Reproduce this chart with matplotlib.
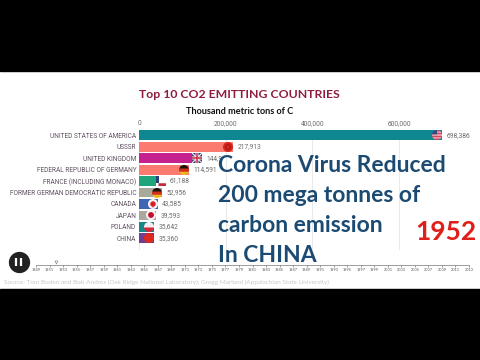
import numpy as np
import matplotlib
matplotlib.use("Agg")
import matplotlib.pyplot as plt
from matplotlib.offsetbox import OffsetImage, AnnotationBbox

countries = ["UNITED STATES OF AMERICA", "USSSR", "UNITED KINGDOM", "FEDERAL REPUBLIC OF GERMANY",
             "FRANCE (INCLUDING MONACO)", "FORMER GERMAN DEMOCRATIC REPUBLIC", "CANADA", "JAPAN",
             "POLAND", "CHINA"]
values = [698386, 217913, 144900, 114591, 61188, 52956, 43585, 39593, 35642, 35360]
value_labels = ["698,386", "217,913", "144,9", "114,591", "61,188", "52,956", "43,585", "39,593", "35,642", "35,360"]
bar_colors = ["#0e8791", "#fb7b70", "#c6228f", "#fb7b70", "#1fa47c", "#a9a99b", "#3f66b2", "#a9a99f", "#17888a", "#6f3c96"]
flags = ["us", "su", "uk", "de", "fr", "de", "ca", "jp", "pl", "cn"]
x_ticks = [0, 200000, 400000, 600000]
years = list(range(1949, 2014, 2))
current_year = 1952
big_lines = ["Corona Virus Reduced", "200 mega tonnes of", "carbon emission", "In CHINA"]


def flag_image(kind, px=10, ss=4):
    n = px * ss
    yy, xx = (np.mgrid[0:n, 0:n] + .5) / n
    img = np.ones((n, n, 4))
    def paint(mask, c):
        img[mask, :3] = matplotlib.colors.to_rgb(c)
    r = np.hypot(xx - .5, yy - .5)
    if kind == "us":
        paint(np.ones_like(xx, bool), "#f2b6c0")
        paint((yy * 7).astype(int) % 2 == 0, "#d0485f")
        paint((xx < .5) & (yy < .45), "#3c4a85")
    elif kind == "su":
        paint(np.ones_like(xx, bool), "#d8261c")
        paint((r < .3) & (r > .17), "#a81a10")
    elif kind == "uk":
        paint(np.ones_like(xx, bool), "#3a3f7c")
        paint((np.abs(xx - yy) < .09) | (np.abs(xx + yy - 1) < .09), "#e8dfe6")
        paint((np.abs(xx - .5) < .15) | (np.abs(yy - .5) < .15), "#f2e8ee")
        paint((np.abs(xx - .5) < .07) | (np.abs(yy - .5) < .07), "#c8283c")
    elif kind == "de":
        paint(yy < .36, "#1c1410")
        paint((yy >= .36) & (yy < .68), "#d0301c")
        paint(yy >= .68, "#f0b820")
    elif kind == "fr":
        paint(np.ones_like(xx, bool), "#ffffff")
        paint((xx < .3) & (yy < .7), "#27407f")
        paint((yy > .72) & (xx > .25), "#c82a3a")
    elif kind == "ca":
        paint(r < 1, "#f8f4f4")
        paint((r < .27) | ((np.abs(xx - .5) < .05) & (yy > .5) & (yy < .85)), "#d8202c")
    elif kind == "jp":
        paint(r < 1, "#f8f4f6")
        paint(r < .29, "#c4102e")
    elif kind == "pl":
        paint(yy < .55, "#f4f0f2")
        paint(yy >= .55, "#d42a3c")
    elif kind == "cn":
        paint(r < 1, "#de2a1c")
    if kind not in ("uk", "fr"):
        img[..., 3] = (r < .5).astype(float)
    # box-average down to the final pixel size, weighting colour by alpha
    a = img[..., 3:]
    pm = (img[..., :3] * a).reshape(px, ss, px, ss, 3).mean(axis=(1, 3))
    am = a.reshape(px, ss, px, ss, 1).mean(axis=(1, 3))
    return np.dstack([pm / np.maximum(am, 1e-6), am])


plt.rcParams["font.family"] = ["Lato", "DejaVu Sans"]
W, H = 480, 360
fig = plt.figure(figsize=(W / 100, H / 100), dpi=100, facecolor="white")


def box(l, t, r, b):
    return [l / W, 1 - b / H, (r - l) / W, (b - t) / H]


# black letterbox bands
fig.patches.append(plt.Rectangle((0, 1 - 71 / H), 1, 71 / H, transform=fig.transFigure, color="black"))
fig.patches.append(plt.Rectangle((0, 0), 1, (H - 289) / H, transform=fig.transFigure, color="black"))

# bars
ax = fig.add_axes(box(139, 129.5, 470, 250), facecolor="none")
y = np.arange(len(countries))
ax.barh(y, values, height=0.86, color=bar_colors, zorder=2)
ax.set_xlim(0, 331 / 86.7 * 200000)
ax.set_ylim((250 - 129.5) / 11.46 - 0.5, -0.5)
ax.set_yticks(y, countries)
ax.set_xticks(x_ticks, [f"{t:,}" for t in x_ticks])
ax.xaxis.tick_top()
ax.tick_params(axis="x", length=0, pad=1.5, labelsize=4.7, labelcolor="#6a6a6a")
ax.tick_params(axis="y", length=0, pad=2, labelsize=4.7, labelcolor="#5e5060")
for lab in ax.get_yticklabels() + ax.get_xticklabels():
    lab.set_family("Roboto")
ax.grid(axis="x", color="#e6e6e6", lw=0.6, zorder=0)
for s in ax.spines.values():
    s.set_visible(False)
for i, (v, lab, fl) in enumerate(zip(values, value_labels, flags)):
    ab = AnnotationBbox(OffsetImage(flag_image(fl), zoom=1, dpi_cor=False, interpolation="nearest"), (v, i),
                        box_alignment=(1.0, 0.5), frameon=False, pad=0, zorder=3)
    ax.add_artist(ab)
    ax.annotate(lab, (v, i), xytext=(3.2, 0), textcoords="offset points", va="center",
                fontsize=4.8, color="#6a6a6a", zorder=3, family="Roboto")

# titles
fig.text(239.5 / W, 1 - 94 / H, "Top 10 CO2 EMITTING COUNTRIES", ha="center", va="center",
         fontsize=8.8, fontweight="bold", color="#8f1c3c")
fig.text(240 / W, 1 - 112 / H, "Thousand metric tons of C", ha="center", va="center",
         fontsize=6.55, fontweight="bold", color="#111111")

# timeline
tl = fig.add_axes(box(36, 262, 469, 264.5), facecolor="none")
tl.set_xlim(years[0], years[-1])
tl.set_ylim(0, 1)
tl.set_yticks([])
tl.set_xticks(years, [str(v) for v in years])
tl.tick_params(axis="x", length=1.5, width=0.4, pad=0.8, labelsize=2.8, color="#555555", labelcolor="#555555")
for k, s in tl.spines.items():
    s.set_visible(k == "bottom")
    s.set_linewidth(0.5)
    s.set_color("#777777")
tl.plot([current_year], [1.0], marker="v", ms=2.2, mfc="none", mec="#777777", mew=0.4, clip_on=False)

# pause button
ui = fig.add_axes([0, 0, 1, 1], facecolor="none")
ui.set_xlim(0, W)
ui.set_ylim(H, 0)
ui.axis("off")
ui.scatter([18.5], [262], s=235, color="#222222", lw=0)
ui.vlines([16, 21], 258, 266, color="white", lw=1.6)

# overlay text
for line, ypx in zip(big_lines, [165.5, 196, 226, 255.5]):
    fig.text(218 / W, 1 - ypx / H, line, ha="left", va="center", fontsize=16.5, fontweight="bold",
             color="#1b4a72")
fig.text(446 / W, 1 - 232 / H, str(current_year), ha="center", va="center", fontsize=19, fontweight="bold",
         color="#df1f1a")
fig.text(3.5 / W, 1 - 282.5 / H,
         "Source: Tom Boden and Bob Andres (Oak Ridge National Laboratory); Gregg Marland (Appalachian State University)",
         ha="left", va="center", fontsize=4.55, color="#c8c8c8")

fig.savefig("out.png", dpi=100, facecolor="white")
